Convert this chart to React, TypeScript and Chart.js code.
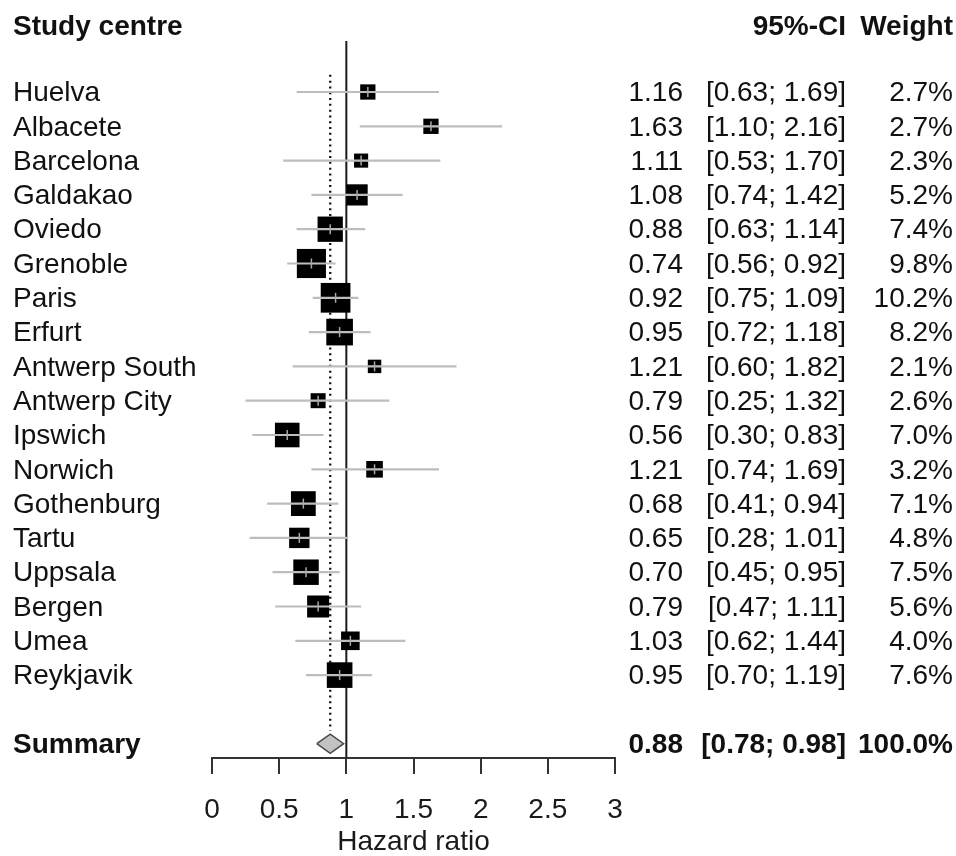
import { useEffect, useRef } from "react";
import { Chart, registerables } from "chart.js";

Chart.register(...registerables);

// ---- data ----
const studies = [
  "Huelva", "Albacete", "Barcelona", "Galdakao", "Oviedo", "Grenoble", "Paris", "Erfurt",
  "Antwerp South", "Antwerp City", "Ipswich", "Norwich", "Gothenburg", "Tartu", "Uppsala",
  "Bergen", "Umea", "Reykjavik",
];
const hazardRatios = [1.16, 1.63, 1.11, 1.08, 0.88, 0.74, 0.92, 0.95, 1.21, 0.79, 0.56, 1.21, 0.68, 0.65, 0.70, 0.79, 1.03, 0.95];
const ciLower = [0.63, 1.10, 0.53, 0.74, 0.63, 0.56, 0.75, 0.72, 0.60, 0.25, 0.30, 0.74, 0.41, 0.28, 0.45, 0.47, 0.62, 0.70];
const ciUpper = [1.69, 2.16, 1.70, 1.42, 1.14, 0.92, 1.09, 1.18, 1.82, 1.32, 0.83, 1.69, 0.94, 1.01, 0.95, 1.11, 1.44, 1.19];
const weights = [2.7, 2.7, 2.3, 5.2, 7.4, 9.8, 10.2, 8.2, 2.1, 2.6, 7.0, 3.2, 7.1, 4.8, 7.5, 5.6, 4.0, 7.6];

const summaryLabel = "Summary";
const summaryHR = 0.88;
const summaryLower = 0.78;
const summaryUpper = 0.98;
const summaryWeight = 100.0;

const headerLabels = ["Study centre", "95%-CI", "Weight"];
const axisTitle = "Hazard ratio";
const xMin = 0;
const xMax = 3;
const xStep = 0.5;
const nullEffect = 1;

// ---- layout helpers (rows) ----
const summaryRow = studies.length + 1;
const headerRow = -1.92;
const yTop = -1.487;
const yBottom = 19.417;

const FONT = '"Liberation Sans", Arial, sans-serif';

const textPlugin = {
  id: "forestText",
  afterDraw(chart: any) {
    const ctx = chart.ctx as CanvasRenderingContext2D;
    const ys = chart.scales.y;
    const colLeft = 13;
    const colHR = 683;
    const colCI = 846;
    const colW = 953;
    ctx.save();
    ctx.fillStyle = "#111";
    ctx.textBaseline = "middle";
    const py = (r: number) => ys.getPixelForValue(r) + 1.5;

    // headers
    ctx.font = `bold 28px ${FONT}`;
    ctx.textAlign = "left";
    ctx.fillText(headerLabels[0], colLeft, py(headerRow));
    ctx.textAlign = "right";
    ctx.fillText(headerLabels[1], colCI, py(headerRow));
    ctx.fillText(headerLabels[2], colW, py(headerRow));

    // study rows
    ctx.font = `28px ${FONT}`;
    studies.forEach((s, i) => {
      const y = py(i);
      ctx.textAlign = "left";
      ctx.fillText(s, colLeft, y);
      ctx.textAlign = "right";
      ctx.fillText(hazardRatios[i].toFixed(2), colHR, y);
      ctx.fillText(`[${ciLower[i].toFixed(2)}; ${ciUpper[i].toFixed(2)}]`, colCI, y);
      ctx.fillText(`${weights[i].toFixed(1)}%`, colW, y);
    });

    // summary
    ctx.font = `bold 28px ${FONT}`;
    const ySum = py(summaryRow);
    ctx.textAlign = "left";
    ctx.fillText(summaryLabel, colLeft, ySum);
    ctx.textAlign = "right";
    ctx.fillText(summaryHR.toFixed(2), colHR, ySum);
    ctx.fillText(`[${summaryLower.toFixed(2)}; ${summaryUpper.toFixed(2)}]`, colCI, ySum);
    ctx.fillText(`${summaryWeight.toFixed(1)}%`, colW, ySum);
    ctx.restore();
  },
};

export default function App() {
  const ref = useRef<HTMLCanvasElement>(null);

  useEffect(() => {
    if (!ref.current) return;

    const ciData: any[] = [];
    studies.forEach((_, i) => {
      ciData.push({ x: ciLower[i], y: i });
      ciData.push({ x: ciUpper[i], y: i });
      ciData.push({ x: ciUpper[i], y: null });
    });

    const squareData = studies.map((_, i) => ({ x: hazardRatios[i], y: i }));
    const squareRadius = weights.map((w) => (9.3 * Math.sqrt(w)) / Math.SQRT2);

    const diamondH = 0.28;
    const diamond = [
      { x: summaryLower, y: summaryRow },
      { x: summaryHR, y: summaryRow - diamondH },
      { x: summaryUpper, y: summaryRow },
      { x: summaryHR, y: summaryRow + diamondH },
      { x: summaryLower, y: summaryRow },
    ];

    const chart = new Chart(ref.current, {
      type: "scatter",
      data: {
        datasets: [
          {
            label: "null effect",
            data: [{ x: nullEffect, y: yTop }, { x: nullEffect, y: yBottom }],
            showLine: true,
            borderColor: "#1a1a1a",
            borderWidth: 2,
            pointRadius: 0,
            order: 6,
          } as any,
          {
            label: "summary line",
            data: [{ x: summaryHR, y: -0.5 }, { x: summaryHR, y: summaryRow - diamondH - 0.1 }],
            showLine: true,
            borderColor: "#1a1a1a",
            borderWidth: 2.4,
            borderDash: [2, 3.8],
            pointRadius: 0,
            order: 5,
          },
          {
            label: "estimates",
            data: squareData,
            pointStyle: "rect",
            pointRadius: squareRadius,
            backgroundColor: "#000",
            borderColor: "#000",
            borderWidth: 0,
            order: 4,
          },
          {
            label: "CI",
            data: ciData,
            showLine: true,
            spanGaps: false,
            borderColor: "#bdbdbd",
            borderWidth: 2.2,
            pointRadius: 0,
            order: 3,
          },
          {
            label: "estimate tick",
            data: squareData,
            pointStyle: "line",
            rotation: 90,
            pointRadius: 5,
            borderColor: "#a8a8a8",
            borderWidth: 1.5,
            order: 2,
          },
          {
            label: "summary",
            data: diamond,
            showLine: true,
            fill: "shape",
            backgroundColor: "#c2c2c2",
            borderColor: "#4a4a4a",
            borderWidth: 1.5,
            pointRadius: 0,
            order: 1,
          },
        ],
      },
      options: {
        animation: false,
        responsive: false,
        devicePixelRatio: 1,
        events: [],
        layout: { padding: { left: 212, right: 341, top: 41, bottom: 0 } },
        plugins: {
          legend: { display: false },
          tooltip: { enabled: false },
        },
        scales: {
          x: {
            type: "linear",
            min: xMin,
            max: xMax,
            ticks: {
              stepSize: xStep,
              color: "#1a1a1a",
              padding: 22,
              font: { family: FONT, size: 28, lineHeight: 1.0 },
              maxRotation: 0,
              callback: (v: any) => String(Number(v)),
            },
            grid: {
              drawOnChartArea: false,
              drawTicks: true,
              tickLength: 16,
              tickColor: "#333",
              lineWidth: 2,
            },
            border: { display: true, color: "#333", width: 2 },
            title: {
              display: true,
              text: axisTitle,
              color: "#1a1a1a",
              font: { family: FONT, size: 28, lineHeight: 1.0 },
              padding: { top: -18, bottom: 0 },
            },
          },
          y: {
            type: "linear",
            display: false,
            reverse: true,
            min: yTop,
            max: yBottom,
          },
        },
      },
      plugins: [textPlugin],
    } as any);

    return () => chart.destroy();
  }, []);

  return (
    <div style={{ position: "absolute", left: 0, top: 0, width: 956, height: 856, background: "#fff" }}>
      <canvas ref={ref} width={956} height={856} style={{ width: 956, height: 856, display: "block" }} />
    </div>
  );
}
